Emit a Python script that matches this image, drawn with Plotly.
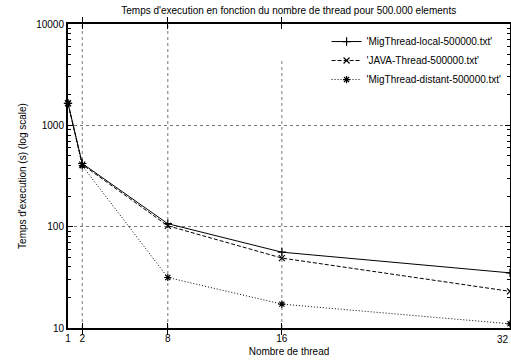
import plotly.graph_objects as go

threads = [1, 2, 8, 16, 32]
local_times = [1650, 420, 107, 56, 35]
java_times = [1650, 410, 102, 49, 23]
distant_times = [1650, 400, 31.5, 17.2, 11]
x_ticks = [1, 2, 8, 16, 32]
y_ticks = [10, 100, 1000, 10000]
y_minor = [m * 10 ** e for e in (1, 2, 3) for m in range(2, 10)]

names = ["'MigThread-local-500000.txt'", "'JAVA-Thread-500000.txt'", "'MigThread-distant-500000.txt'"]
series = [local_times, java_times, distant_times]
dashes = ["solid", "4px,2px", "1px,2px"]
symbols = ["cross-thin-open", "x-thin-open", "asterisk-open"]

fig = go.Figure()
for name, vals, d, s in zip(names, series, dashes, symbols):
    fig.add_trace(go.Scatter(
        x=threads, y=vals, name=name, mode="lines+markers",
        line=dict(color="black", width=1, dash=d),
        marker=dict(symbol=s, size=6, color="black", line=dict(color="black", width=1.2)),
        cliponaxis=False,
    ))

# invisible trace to carry the minor-tick axis
fig.add_trace(go.Scatter(x=[threads[0]], y=[y_ticks[0]], yaxis="y2", mode="markers",
                         marker=dict(opacity=0), showlegend=False, hoverinfo="skip"))

font = dict(family="Liberation Sans, Arial, sans-serif", size=10, color="black")

# vertical grid lines (x=16 stops below the key area)
for xv, top in [(2, 1.0), (8, 1.0), (16, 0.88)]:
    fig.add_shape(type="line", xref="x", yref="y domain", x0=xv, x1=xv, y0=0, y1=top,
                  line=dict(color="#777", width=1, dash="dot"), layer="below")

# last x tick label, kept inside the window edge
fig.add_annotation(x=x_ticks[-1], xref="x", y=0, yref="paper", yanchor="top", xanchor="right",
                   yshift=-4, xshift=1, text=str(x_ticks[-1]), showarrow=False, font=dict(size=10))

fig.update_layout(
    width=511, height=362,
    margin=dict(l=68, r=1, t=24, b=34),
    paper_bgcolor="white", plot_bgcolor="white",
    font=font,
    title=dict(text="Temps d'execution en fonction du nombre de thread pour 500.000 elements",
               x=0.565, xanchor="center", y=0.972, yanchor="middle", font=dict(size=10)),
    showlegend=True,
    legend=dict(x=0.585, y=0.99, xanchor="left", yanchor="top", bgcolor="rgba(255,255,255,0)",
                font=dict(size=10), tracegroupgap=0, itemwidth=30),
    xaxis=dict(
        title=dict(text="Nombre de thread", standoff=5, font=dict(size=10)),
        automargin=False,
        range=[1, 32], tickvals=x_ticks[:-1], ticktext=[str(v) for v in x_ticks[:-1]],
        showgrid=False, zeroline=False,
        showline=True, linecolor="black", linewidth=2, mirror="allticks",
        ticks="inside", ticklen=5, tickcolor="black",
    ),
    yaxis=dict(
        title=dict(text="Temps d'execution (s) (log scale)", standoff=8, font=dict(size=10)),
        automargin=False,
        type="log", range=[1, 4], tickvals=y_ticks, ticktext=[str(v) for v in y_ticks],
        showgrid=True, gridcolor="#777", griddash="dot", gridwidth=1, zeroline=False,
        showline=True, linecolor="black", linewidth=2, mirror="allticks",
        ticks="inside", ticklen=5, tickcolor="black",
    ),
    yaxis2=dict(
        overlaying="y", type="log", range=[1, 4], tickvals=y_minor,
        ticktext=["" for _ in y_minor], showgrid=False, zeroline=False,
        showline=False, mirror="allticks", ticks="inside", ticklen=3, tickcolor="black",
        automargin=False, side="left",
    ),
)

fig.write_html("out.html", config={"displayModeBar": False},
               post_script="document.body.style.margin='0';document.body.style.padding='0';")
